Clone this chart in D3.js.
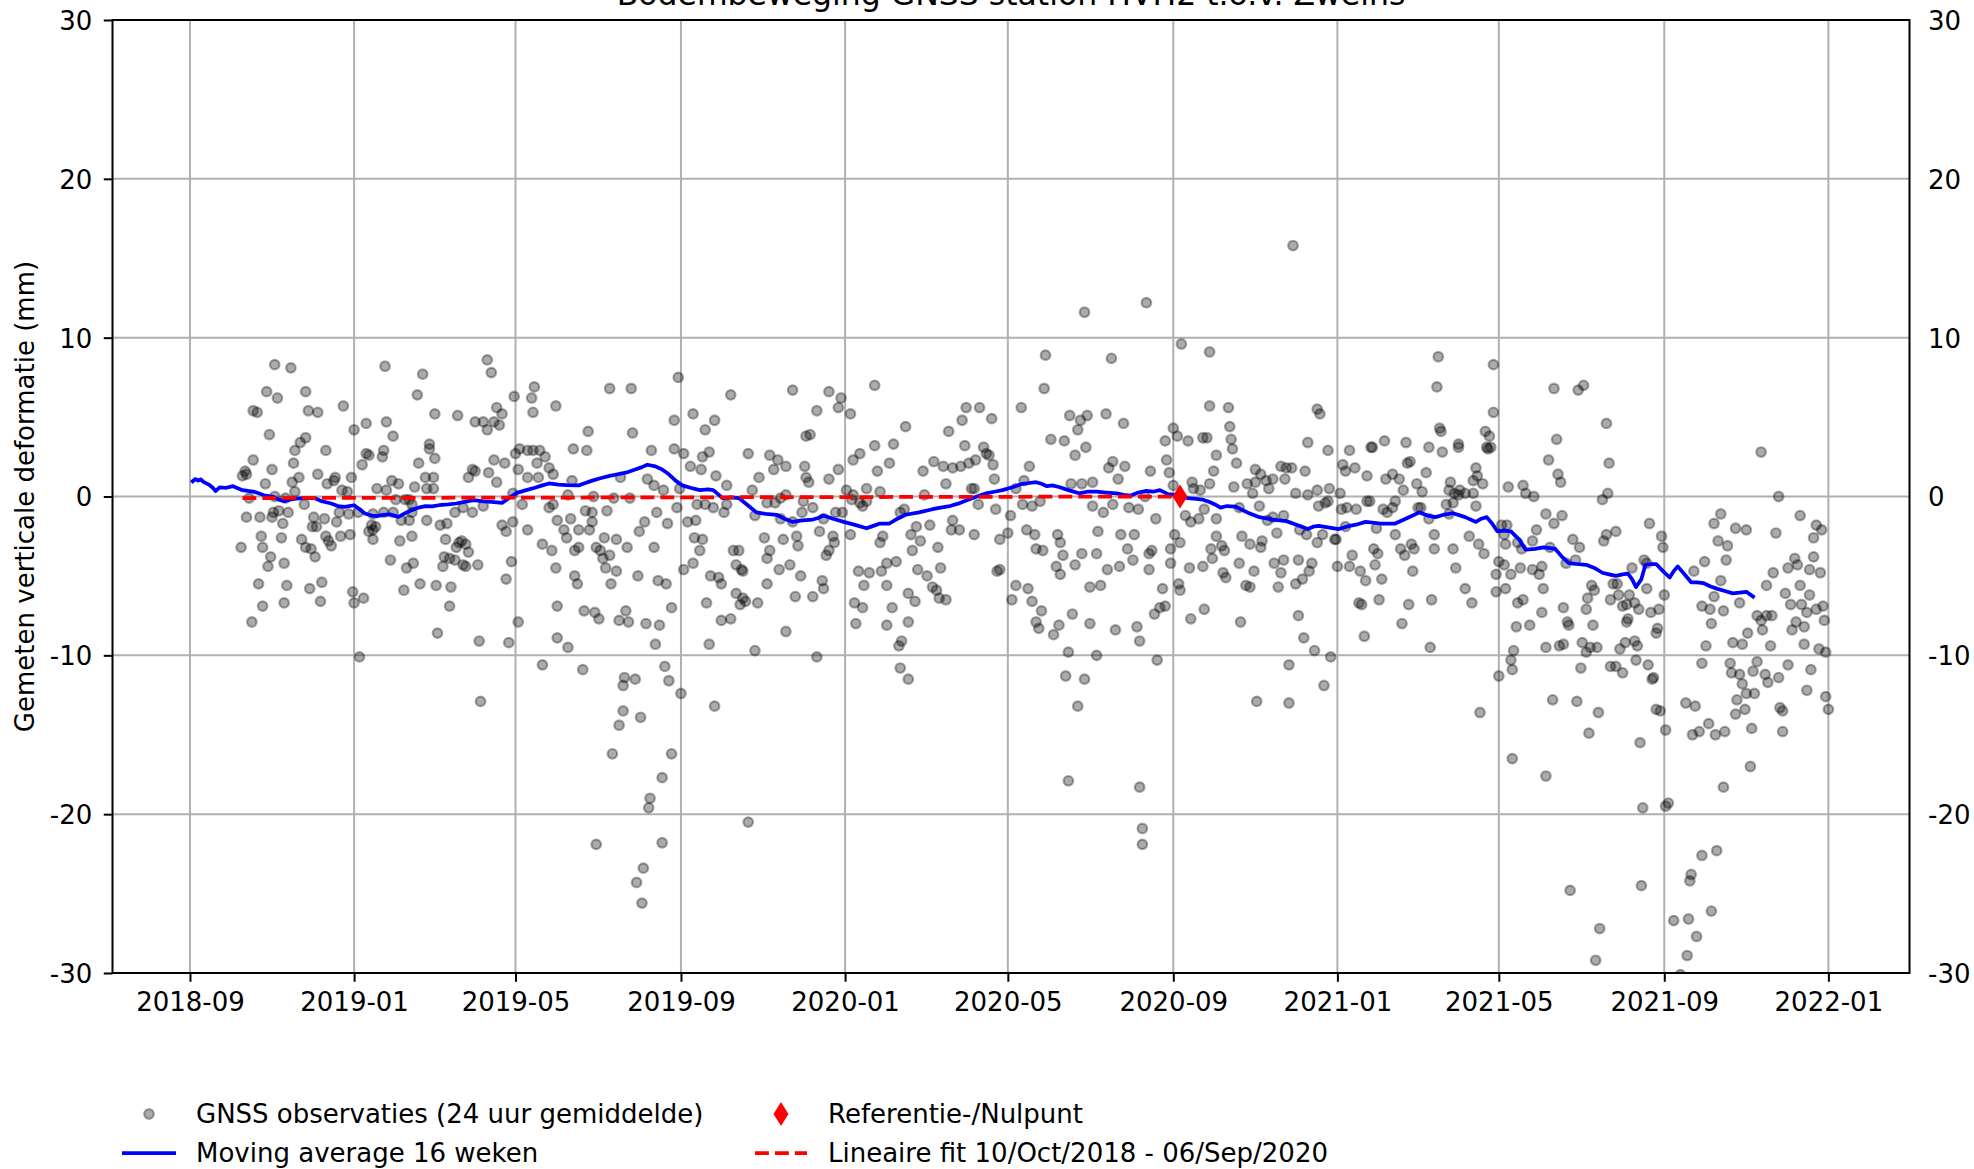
<!DOCTYPE html>
<html><head><meta charset="utf-8">
<script src="https://cdn.jsdelivr.net/npm/d3@7"></script>
<style>
html,body{margin:0;padding:0;background:#fff;}
svg{display:block;font-family:"DejaVu Sans",sans-serif;}
</style></head><body>
<svg id="chart" width="1974" height="1169"></svg>
<script>
// ---- DATA (day offset since startDate, mm) ----
const startDate = "2018-09-01";
const titleText = "Bodembeweging GNSS station HVH2 t.o.v. Zweins";
const yLabelText = "Gemeten verticale deformatie (mm)";
const xTickDates = ["2018-09-01","2019-01-01","2019-05-01","2019-09-01","2020-01-01","2020-05-01","2020-09-01","2021-01-01","2021-05-01","2021-09-01","2022-01-01"];
const yTicks = [-30,-20,-10,0,10,20,30];
const legendLabels = ["GNSS observaties (24 uur gemiddelde)","Moving average 16 weken","Referentie-/Nulpunt","Lineaire fit 10/Oct/2018 - 06/Sep/2020"];

const obsA = [[63,8.3],[75,8.1],[57,6.6],[65,6.2],[86,6.6],[47,5.4],[50,5.3],[88,5.4],[95,5.3],[114,5.7],[59,3.9],[86,3.7],[82,3.4],[78,2.9],[101,2.9],[47,2.3],[61,1.7],[77,2.1],[41,1.6],[42,1.4],[39,1.3],[56,0.8],[76,0.9],[81,1.2],[95,1.4],[107,1.0],[108,1.2],[102,0.8],[120,1.2],[117,0.3],[113,0.4],[44,-0.1],[63,0.0],[71,-0.1],[85,-0.5],[78,0.3],[42,-1.3],[52,-1.3],[62,-1.0],[66,-0.9],[73,-1.0],[61,-1.3],[69,-1.7],[92,-1.3],[100,-1.4],[91,-1.9],[94,-1.9],[109,-1.6],[111,-1.0],[118,-1.1],[38,-3.2],[53,-2.5],[54,-3.2],[68,-2.6],[83,-2.7],[86,-3.2],[90,-3.3],[101,-2.5],[103,-2.8],[105,-3.1],[112,-2.5],[119,-2.4],[60,-3.8],[58,-4.4],[70,-4.2],[93,-3.8],[51,-5.5],[72,-5.6],[89,-5.8],[98,-5.4],[54,-6.9],[70,-6.7],[97,-6.6],[46,-7.9]];

const obsB = [[122,4.2],[131,4.6],[146,4.7],[151,3.8],[145,8.2],[173,7.7],[169,6.4],[182,5.2],[199,5.1],[221,8.6],[224,7.8],[241,6.3],[254,6.2],[256,6.9],[255,5.3],[272,5.7],[212,4.7],[218,4.7],[226,4.7],[230,4.5],[221,4.2],[228,5.6],[232,5.2],[178,3.3],[178,3.0],[182,2.4],[170,2.1],[131,2.7],[133,2.6],[128,2.0],[143,2.5],[144,2.9],[242,2.7],[245,3.0],[251,2.9],[255,2.9],[260,2.9],[264,2.5],[258,2.1],[267,1.8],[210,1.7],[212,1.6],[207,1.2],[222,1.5],[226,2.3],[234,2.1],[228,0.9],[244,1.7],[251,1.2],[259,1.2],[270,1.4],[181,1.2],[175,1.2],[176,0.5],[167,0.6],[181,0.5],[150,1.0],[155,0.8],[139,0.5],[146,0.4],[153,-0.2],[160,-0.2],[163,-0.2],[165,-0.5],[165,-1.0],[151,-1.0],[144,-1.0],[125,-1.0],[136,-1.1],[157,-1.5],[163,-1.5],[176,-1.5],[186,-1.8],[191,-1.7],[197,-1.0],[203,-0.7],[210,-1.0],[218,-0.6],[232,-1.8],[235,-2.2],[240,-1.6],[240,0.2],[247,-0.5],[267,-0.7],[270,-0.5],[273,-1.5],[251,-2.1],[262,-3.0],[269,-3.4],[272,-4.5],[135,-1.8],[136,-2.1],[138,-1.9],[133,-2.2],[136,-2.7],[156,-2.8],[165,-2.5],[149,-4.0],[161,-4.5],[166,-4.2],[190,-2.7],[200,-2.9],[202,-2.8],[205,-3.0],[198,-3.2],[207,-3.5],[189,-3.8],[193,-3.9],[188,-4.4],[197,-4.0],[203,-4.3],[205,-4.4],[214,-4.3],[239,-4.1],[235,-5.2],[159,-5.9],[171,-5.5],[183,-5.6],[194,-5.7],[193,-6.9],[184,-8.6],[215,-9.1],[237,-9.2],[244,-7.9],[262,-10.6],[273,-6.9],[273,-8.9],[121,-6.0],[122,-6.7],[129,-6.4],[126,-10.1],[216,-12.9]];

const obsC = [[312,6.8],[328,6.8],[363,7.5],[402,6.4],[448,6.7],[475,6.6],[484,6.2],[509,7.0],[296,4.1],[329,4.0],[360,4.8],[374,5.2],[390,4.8],[383,4.2],[466,5.4],[482,5.6],[491,5.2],[285,3.0],[295,2.9],[343,2.9],[360,3.0],[367,2.7],[372,1.9],[380,1.7],[381,2.5],[386,2.8],[415,2.7],[431,2.6],[437,2.3],[434,1.7],[443,1.9],[457,1.9],[458,3.8],[461,3.9],[493,2.3],[498,2.7],[509,3.2],[511,1.6],[520,2.1],[284,1.0],[320,1.2],[340,1.1],[345,0.7],[352,0.4],[364,0.5],[391,1.3],[399,0.7],[423,1.2],[418,0.4],[458,1.2],[460,0.9],[475,1.1],[482,1.7],[488,0.4],[493,0.1],[503,0.5],[513,0.3],[300,0.0],[315,-0.1],[327,-0.1],[281,0.1],[362,-0.7],[377,-0.5],[383,-0.5],[389,-0.7],[397,-1.0],[399,-0.5],[420,-1.2],[429,-0.4],[435,-0.4],[439,-0.1],[443,0.1],[439,-1.4],[456,-0.3],[463,-0.7],[455,-1.0],[448,-1.6],[471,-1.4],[480,-1.0],[485,-1.0],[492,-0.2],[498,-0.4],[500,-0.6],[503,-0.3],[294,-0.9],[299,-1.0],[310,-0.9],[283,-1.4],[347,-1.0],[355,-1.7],[370,-1.6],[376,-1.5],[338,-1.6],[334,-2.2],[289,-2.1],[297,-2.1],[299,-1.6],[278,-2.1],[280,-2.6],[308,-2.6],[317,-2.7],[325,-3.2],[345,-3.2],[375,-2.6],[381,-2.7],[379,-3.4],[404,-3.4],[408,-3.4],[427,-2.6],[441,-2.7],[451,-2.5],[452,-3.1],[468,-2.2],[478,-2.5],[479,-2.9],[491,-2.4],[513,-2.9],[515,-2.5],[518,-4.2],[286,-3.4],[289,-3.2],[302,-3.2],[305,-3.4],[312,-3.7],[307,-3.9],[309,-4.5],[317,-4.7],[333,-5.0],[348,-5.3],[354,-5.5],[367,-4.6],[374,-4.2],[387,-5.0],[393,-5.1],[395,-5.5],[406,-4.3],[410,-4.6],[411,-4.7],[431,-3.4],[429,-3.9],[438,-4.6],[446,-4.3],[454,-5.0],[473,-3.7],[475,-3.4],[497,-4.7],[505,-4.8],[514,-4.7],[518,-5.6],[501,-5.6],[286,-5.0],[288,-5.5],[313,-5.5],[293,-7.2],[301,-7.3],[304,-7.7],[319,-7.8],[324,-7.2],[326,-7.9],[339,-8.0],[349,-8.1],[358,-7.0],[384,-6.7],[395,-7.8],[402,-7.7],[406,-6.1],[411,-6.4],[409,-6.8],[413,-6.6],[422,-6.7],[429,-5.5],[450,-6.3],[463,-6.3],[470,-5.3],[471,-5.8],[494,-6.7],[500,-7.0],[495,-8.0],[518,-8.1],[443,-8.5],[281,-9.5],[292,-10.9],[346,-9.3],[386,-9.3],[420,-9.7],[466,-10.1],[323,-11.4],[331,-11.5],[322,-11.9],[353,-10.7],[356,-11.6],[365,-12.4],[390,-13.2],[322,-13.5],[335,-13.9],[319,-14.4],[314,-16.2],[358,-16.2],[351,-17.7],[342,-19.0],[341,-19.6],[415,-20.5],[302,-21.9],[351,-21.8],[337,-23.4],[332,-24.3],[336,-25.6]];

const obsD = [[665,11.6],[711,12.2],[636,8.9],[635,6.8],[685,8.7],[737,9.6],[758,9.1],[758,5.7],[618,5.6],[577,5.6],[587,5.6],[574,4.8],[596,4.9],[532,4.4],[564,4.1],[654,5.1],[662,4.8],[667,5.1],[681,5.2],[694,4.6],[660,4.2],[731,4.3],[734,3.8],[725,3.5],[742,3.5],[753,3.7],[756,3.7],[523,3.3],[545,1.6],[553,2.2],[560,1.9],[567,1.8],[573,1.9],[579,2.1],[584,2.3],[590,3.1],[592,2.7],[594,2.6],[576,3.2],[597,2.0],[624,1.9],[640,3.6],[650,3.5],[658,2.6],[666,3.1],[686,2.2],[683,1.8],[695,1.9],[714,1.6],[726,2.3],[728,1.5],[763,2.6],[761,1.6],[758,0.8],[546,0.1],[562,0.8],[581,0.5],[583,0.5],[598,1.1],[614,0.5],[620,1.0],[655,0.8],[663,0.8],[671,0.9],[690,1.1],[710,0.0],[731,0.7],[745,0.9],[746,0.5],[751,0.4],[528,-1.0],[531,-0.8],[536,-2.4],[540,-1.9],[543,-2.8],[550,-1.8],[556,-3.2],[567,-1.5],[566,-2.1],[572,-2.1],[583,-2.4],[586,-0.5],[599,-0.8],[610,-1.2],[602,-2.7],[608,-2.3],[619,-0.5],[626,-0.6],[632,-0.3],[622,-2.1],[628,-2.4],[629,-3.3],[634,-3.4],[645,-2.4],[647,-2.9],[649,-3.7],[644,-4.4],[647,-4.9],[658,-4.3],[663,-3.6],[671,-0.6],[675,-2.2],[679,-1.0],[686,-0.5],[692,-2.4],[702,-2.4],[698,-0.7],[705,-0.8],[718,-1.4],[674,-3.6],[682,-4.6],[691,-4.4],[697,-3.3],[701,-4.0],[713,-3.6],[715,-3.4],[713,-4.6],[732,-2.4],[736,-2.9],[740,-1.2],[744,-1.6],[750,-1.4],[754,-0.8],[763,-1.4],[763,-2.5],[759,-3.3],[760,-3.9],[753,-4.4],[743,-4.5],[729,-3.3],[729,-4.2],[525,-4.1],[537,-3.4],[541,-4.6],[548,-5.0],[558,-4.5],[522,-7.0],[534,-6.1],[539,-6.6],[552,-5.7],[557,-6.4],[562,-6.5],[555,-5.9],[602,-4.6],[600,-4.7],[614,-5.6],[611,-6.5],[623,-5.8],[626,-6.6],[633,-7.2],[629,-7.9],[631,-8.3],[642,-8.7],[646,-8.1],[656,-7.4],[669,-8.0],[677,-5.6],[669,-5.7],[688,-8.4],[704,-8.2],[706,-9.1],[723,-5.8],[717,-7.4],[721,-7.0],[725,-6.9],[735,-5.5],[736,-5.9],[744,-7.7],[754,-7.1],[529,-9.1],[527,-9.4],[534,-7.9],[528,-10.8],[534,-11.5],[653,-9.8],[651,-11.3],[665,-11.5],[674,-10.0],[660,-13.2],[719,-10.3],[653,-17.9],[706,-18.3],[708,-20.9],[708,-21.9]];

const obsE = [[820,15.8],[928,8.8],[969,8.3],[927,6.9],[969,5.3],[772,5.6],[838,5.5],[840,5.2],[773,4.4],[774,3.6],[775,3.0],[831,3.4],[846,2.9],[862,2.9],[878,3.1],[879,3.1],[888,3.5],[904,3.4],[921,3.1],[931,2.8],[943,3.3],[943,3.1],[929,4.3],[930,4.1],[964,3.1],[965,3.0],[967,3.1],[963,4.1],[966,3.8],[956,1.8],[957,1.3],[954,1.0],[961,0.8],[778,2.1],[776,0.6],[792,1.7],[796,1.4],[792,0.9],[800,1.0],[805,1.1],[811,1.9],[815,1.8],[819,1.8],[814,1.1],[829,1.6],[786,0.8],[790,0.2],[802,0.5],[822,0.2],[831,0.1],[838,0.4],[847,0.5],[855,0.2],[857,2.0],[859,1.6],[866,1.8],[875,1.3],[889,1.1],[894,1.4],[899,1.1],[905,2.1],[907,2.2],[912,0.8],[919,1.5],[902,0.4],[916,0.3],[937,0.9],[936,0.4],[940,0.2],[944,0.4],[948,0.2],[954,0.2],[980,0.6],[991,0.7],[993,0.2],[999,0.0],[1008,-1.1],[780,-0.7],[795,-0.6],[801,-1.5],[805,-1.3],[813,-1.2],[839,-0.6],[844,-0.4],[846,-0.3],[856,-0.8],[860,-0.7],[867,-0.8],[875,-0.3],[877,-0.3],[887,-0.8],[890,-1.0],[894,-0.7],[896,-0.3],[913,-0.7],[915,-0.7],[921,-1.4],[934,-0.5],[939,-0.4],[943,0.1],[956,-0.6],[936,-1.1],[975,-1.8],[979,-1.8],[767,-3.1],[769,-3.4],[782,-2.5],[788,-3.0],[797,-2.8],[796,-3.2],[808,-2.3],[825,-2.1],[830,-2.4],[838,-2.9],[842,-2.4],[851,-2.7],[852,-2.7],[859,-1.9],[882,-2.0],[896,-2.4],[908,-3.0],[900,-3.3],[903,-3.7],[910,-3.3],[925,-2.4],[925,-3.3],[939,-3.3],[951,-2.5],[958,-3.0],[962,-3.6],[977,-2.4],[978,-3.0],[987,-2.9],[990,-3.3],[1001,-2.1],[998,-2.8],[1011,-3.2],[768,-4.8],[770,-5.1],[780,-4.2],[791,-4.7],[806,-4.2],[813,-4.0],[811,-4.8],[824,-4.0],[834,-4.2],[832,-4.7],[853,-4.4],[862,-4.4],[864,-3.7],[870,-4.7],[874,-5.3],[880,-3.3],[883,-3.6],[881,-4.3],[886,-5.2],[909,-4.7],[941,-4.5],[973,-4.1],[977,-4.3],[982,-4.9],[989,-4.5],[998,-4.6],[1003,-4.9],[1005,-4.4],[1006,-5.8],[785,-5.6],[788,-5.7],[809,-5.7],[822,-5.5],[827,-5.2],[869,-6.7],[871,-6.8],[884,-6.5],[906,-6.8],[923,-6.5],[948,-5.8],[953,-6.7],[971,-4.9],[971,-6.0],[978,-5.8],[987,-6.7],[991,-6.5],[996,-8.1],[986,-8.2],[1005,-7.3],[1008,-9.5],[781,-7.9],[824,-7.5],[828,-8.9],[836,-9.7],[848,-10.1],[873,-8.8],[901,-8.0],[922,-9.5],[817,-10.6],[984,-9.7],[982,-10.3],[983,-10.9],[973,-11.3],[843,-11.9],[793,-12.9],[817,-13.0],[959,-13.6],[983,-16.5],[1008,-17.6]];

const obsF = [[1014,6.8],[1032,6.7],[1036,7.0],[1053,4.6],[1016,3.6],[1055,2.1],[1010,2.3],[1017,1.4],[1019,0.9],[1050,-0.2],[1054,0.2],[1168,2.8],[1181,0.0],[1020,-1.2],[1014,-1.7],[1028,-2.7],[1033,-3.2],[1051,-2.8],[1053,-2.4],[1060,-2.2],[1085,-1.7],[1094,-2.5],[1095,-3.2],[1023,-4.2],[1030,-4.0],[1072,-4.5],[1081,-4.0],[1083,-4.2],[1083,-5.8],[1042,-5.6],[1039,-6.4],[1044,-5.9],[1058,-5.5],[1061,-5.5],[1056,-6.5],[1062,-6.2],[1070,-6.2],[1065,-6.9],[1068,-6.8],[1074,-6.7],[1077,-7.1],[1086,-7.3],[1092,-7.1],[1096,-6.2],[1091,-8.3],[1090,-8.6],[1068,-7.9],[1069,-7.7],[1021,-7.0],[1038,-7.1],[1024,-7.9],[1025,-8.1],[1043,-8.1],[1018,-9.4],[1021,-9.3],[1035,-9.2],[1038,-9.8],[1041,-9.5],[1046,-9.5],[1063,-9.6],[1067,-9.2],[1074,-9.1],[1076,-9.4],[1075,-10.3],[1084,-10.6],[1088,-11.4],[1087,-11.5],[1056,-10.7],[1060,-10.7],[1065,-11.1],[1034,-10.8],[1013,-12.8],[1031,-12.9],[1047,-13.6],[1040,-14.9],[1078,-15.5],[1090,-13.4],[1093,-13.5],[1097,-14.7],[1080,-19.6],[1097,-19.5],[1099,-19.3],[1026,-24.8],[1048,-27.2],[1045,-29.2],[1079,-24.5],[1118,-4.7],[1126,-4.1],[1133,-1.7],[1138,-1.1],[1149,-2.0],[1157,-2.1],[1136,-2.8],[1143,-3.1],[1142,-4.0],[1138,-5.3],[1133,-6.3],[1124,-6.9],[1130,-7.1],[1140,-7.2],[1131,-8.0],[1152,-6.7],[1165,-7.5],[1168,-7.8],[1172,-7.5],[1176,-7.5],[1169,-8.4],[1158,-8.6],[1147,-9.2],[1154,-9.3],[1127,-9.4],[1175,-9.4],[1124,-10.5],[1145,-10.5],[1146,-11.1],[1152,-11.2],[1154,-11.8],[1157,-12.4],[1163,-12.4],[1165,-10.4],[1162,-11.0],[1171,-11.2],[1173,-11.7],[1181,-11.4],[1188,-10.6],[1202,-12.2],[1205,-10.9],[1150,-12.8],[1149,-13.7],[1156,-13.4],[1112,-13.0],[1119,-13.2],[1129,-14.3],[1117,-15.0],[1122,-14.8],[1134,-15.0],[1141,-14.8],[1161,-14.6],[1182,-13.3],[1184,-13.5],[1184,-14.8],[1160,-17.0],[1140,-18.3],[1179,-2.3],[1177,-4.8],[1172,-5.6],[1186,-6.1],[1188,-4.5],[1193,-3.9],[1195,-4.3],[1197,-1.2],[1209,-1.8],[1213,-2.1],[1207,-2.6],[1207,-3.8],[1204,-4.6],[1212,-4.8],[1197,-5.6],[1204,-6.2],[1190,-6.8],[1198,-6.8],[1202,-7.3],[1209,-7.1],[1214,-6.9],[1215,-7.8],[1194,-7.9],[1191,-8.4],[1200,-8.2],[1200,-9.3],[1211,-9.6],[1216,-9.8],[1216,-12.6],[1218,-13.4],[1124,-22.6],[1135,-22.3],[1116,-23.8],[1115,-24.2],[1131,-26.1],[1103,-26.7],[1114,-26.6],[1120,-27.7],[1113,-28.9],[1108,-30.1]];

const maA = [[2,0.96],[4,1.1],[6,1.0],[8,1.08],[10,0.92],[14,0.75],[17,0.55],[19,0.34],[22,0.57],[27,0.55],[32,0.65],[36,0.5],[39,0.40],[43,0.35],[47,0.31],[51,0.2],[55,0.08],[62,-0.02],[66,-0.2],[70,-0.29],[74,-0.2],[79,-0.13],[85,-0.1],[92,-0.08],[98,-0.3],[105,-0.44],[110,-0.6],[115,-0.65],[122,-0.55],[126,-0.8],[130,-1.07],[135,-1.2],[139,-1.24],[144,-1.15],[149,-1.13],[155,-1.28],[160,-1.05],[165,-0.86],[170,-0.7],[175,-0.61],[180,-0.62],[185,-0.55],[192,-0.5],[198,-0.44],[205,-0.32],[211,-0.23],[218,-0.3],[224,-0.34],[232,-0.40],[238,-0.05],[243,0.23],[250,0.4],[257,0.57],[262,0.7],[267,0.82],[274,0.75],[280,0.71]];
const maB = [[289,0.7],[294,0.85],[299,1.0],[305,1.15],[312,1.3],[318,1.4],[324,1.5],[331,1.7],[336,1.85],[340,2.0],[346,1.9],[351,1.7],[356,1.4],[361,1.0],[366,0.7],[372,0.55],[379,0.4],[385,0.45],[389,0.4],[396,-0.1],[402,-0.05],[408,-0.1],[414,-0.5],[421,-1.0],[428,-1.1],[436,-1.15],[442,-1.4],[448,-1.6],[455,-1.5],[463,-1.45],[467,-1.35],[471,-1.2],[478,-1.4],[486,-1.6],[495,-1.8],[503,-2.0],[508,-1.85],[513,-1.7],[520,-1.7]];
const maC = [[526,-1.4],[532,-1.15],[542,-1.0],[552,-0.8],[558,-0.7],[565,-0.6],[571,-0.45],[577,-0.25],[585,0.0],[592,0.2],[598,0.3],[604,0.4],[612,0.6],[619,0.8],[624,0.85],[629,0.9],[633,0.8],[637,0.65],[641,0.7],[646,0.6],[653,0.4],[661,0.2],[667,0.3],[674,0.3],[681,0.25],[689,0.2],[694,0.1],[699,0.05],[705,0.25],[711,0.35],[716,0.3],[721,0.4],[727,0.15],[732,0.1],[737,0.0],[742,-0.1],[748,-0.15],[753,-0.2],[758,-0.35],[762,-0.5],[766,-0.7]];
const maD = [[771,-0.6],[777,-0.63],[786,-1.0],[795,-1.3],[805,-1.45],[815,-1.55],[823,-1.8],[831,-2.05],[835,-1.9],[839,-1.85],[846,-1.95],[854,-2.05],[862,-1.85],[868,-1.75],[874,-1.6],[885,-1.7],[896,-1.7],[905,-1.35],[914,-1.0],[920,-1.2],[926,-1.3],[932,-1.15],[939,-1.05],[948,-1.3],[956,-1.6],[960,-1.4],[964,-1.3],[968,-1.7],[972,-2.2],[977,-2.15],[982,-2.2],[988,-2.7],[993,-3.35],[1000,-3.3],[1006,-3.2],[1011,-3.25]];
const maE = [[1015,-3.3],[1020,-3.8],[1025,-4.2],[1031,-4.25],[1038,-4.3],[1044,-4.5],[1050,-4.8],[1055,-4.9],[1060,-5.0],[1065,-4.9],[1069,-4.85],[1072,-5.2],[1075,-5.7],[1079,-5.2],[1082,-4.3],[1086,-4.25],[1090,-4.25],[1095,-4.7],[1100,-5.1],[1103,-4.7],[1106,-4.4],[1111,-4.9],[1116,-5.4],[1120,-5.4],[1125,-5.45],[1130,-5.65],[1135,-5.8],[1141,-5.95],[1147,-6.1],[1152,-6.05],[1157,-6.0],[1162,-6.3]];

const fitDates = ["2018-10-10","2020-09-06"];
const fitMm = [-0.1, 0.0];
const refDate = "2020-09-06";
const refMm = 0;

// ---- LAYOUT ----
const plot = {left:112.5, right:1909.5, top:20, bottom:973};
const FS = 26;
const svg = d3.select("#chart");
const parse = d3.utcParse("%Y-%m-%d");
const base = parse(startDate);
const dayToDate = d => d3.utcDay.offset(base, d);
const fmtTick = d => String(d);

const x = d3.scaleUtc()
  .domain([new Date(Date.UTC(2018,6,5,9,36)), new Date(Date.UTC(2022,2,2,7,12))])
  .range([plot.left, plot.right]);
const y = d3.scaleLinear().domain([-30,30]).range([plot.bottom, plot.top]);

svg.append("defs").append("clipPath").attr("id","clip")
  .append("rect").attr("x",plot.left).attr("y",plot.top)
  .attr("width",plot.right-plot.left).attr("height",plot.bottom-plot.top);

// grid
const grid = svg.append("g").attr("stroke","#b0b0b0").attr("stroke-width",2);
grid.selectAll("line.v").data(xTickDates).join("line")
  .attr("x1",d=>x(parse(d))).attr("x2",d=>x(parse(d)))
  .attr("y1",plot.top).attr("y2",plot.bottom);
grid.selectAll("line.h").data(yTicks).join("line")
  .attr("y1",d=>y(d)).attr("y2",d=>y(d))
  .attr("x1",plot.left).attr("x2",plot.right);

const obs = [].concat(obsA, obsB, obsC, obsD, obsE, obsF);
const ma = [].concat(maA, maB, maC, maD, maE);

const dotFill = "rgba(0,0,0,0.33)";
const dotR = 4.8, dotSW = 2.2;
const data = svg.append("g").attr("clip-path","url(#clip)");
data.selectAll("circle").data(obs).join("circle")
  .attr("cx",d=>x(dayToDate(d[0]))).attr("cy",d=>y(d[1]))
  .attr("r",dotR)
  .attr("fill",dotFill)
  .attr("stroke",dotFill)
  .attr("stroke-width",dotSW);

const line = d3.line().x(d=>x(dayToDate(d[0]))).y(d=>y(d[1]));
data.append("path").datum(ma).attr("d",line)
  .attr("fill","none").attr("stroke","#0000ff").attr("stroke-width",3.75)
  .attr("stroke-linejoin","round").attr("stroke-linecap","square");

const fit = fitDates.map((d,i)=>[parse(d), fitMm[i]]);
data.append("path").datum(fit)
  .attr("d", d3.line().x(d=>x(d[0])).y(d=>y(d[1])))
  .attr("fill","none").attr("stroke","#ff0000").attr("stroke-width",3.75)
  .attr("stroke-dasharray","13.9 6");

const thinDiamond = (w,h) => `M0,${-h}L${w},0L0,${h}L${-w},0Z`;
data.append("path").attr("d",thinDiamond(7.5,12))
  .attr("transform",`translate(${x(parse(refDate))},${y(refMm)})`)
  .attr("fill","#ff0000");

// frame
svg.append("rect").attr("x",plot.left).attr("y",plot.top)
  .attr("width",plot.right-plot.left).attr("height",plot.bottom-plot.top)
  .attr("fill","none").attr("stroke","#000").attr("stroke-width",2);

// axes
function styleAxis(g){
  g.select(".domain").remove();
  g.selectAll(".tick line").attr("stroke","#000").attr("stroke-width",2);
  g.selectAll(".tick text").attr("font-size",FS).attr("fill","#000")
    .attr("font-family","DejaVu Sans, sans-serif");
}
svg.append("g").attr("transform",`translate(0,${plot.bottom})`)
  .call(d3.axisBottom(x).tickValues(xTickDates.map(parse))
        .tickFormat(d3.utcFormat("%Y-%m")).tickSize(8.75).tickPadding(10.5))
  .call(styleAxis);
svg.append("g").attr("transform",`translate(${plot.left},0)`)
  .call(d3.axisLeft(y).tickValues(yTicks).tickFormat(fmtTick).tickSize(8.75).tickPadding(11.5))
  .call(styleAxis)
  .call(g=>g.selectAll(".tick text").attr("dy","0.36em"));
svg.append("g").attr("transform",`translate(${plot.right},0)`)
  .call(d3.axisRight(y).tickValues(yTicks).tickFormat(fmtTick).tickSize(0).tickPadding(18.5))
  .call(styleAxis)
  .call(g=>g.selectAll(".tick text").attr("dy","0.36em"));

// title
svg.append("text").attr("x",(plot.left+plot.right)/2).attr("y",5)
  .attr("text-anchor","middle").attr("font-size",31.5).attr("fill","#000")
  .text(titleText);

// y label
svg.append("text").attr("transform",`translate(34,${(plot.top+plot.bottom)/2}) rotate(-90)`)
  .attr("text-anchor","middle").attr("font-size",FS).attr("fill","#000")
  .text(yLabelText);

// legend
const lg = svg.append("g").attr("font-size",FS).attr("fill","#000");
const row1 = 1114, row2 = 1153;
lg.append("circle").attr("cx",149).attr("cy",row1).attr("r",dotR)
  .attr("fill",dotFill).attr("stroke",dotFill).attr("stroke-width",dotSW);
lg.append("text").attr("x",196).attr("y",row1).attr("dy","0.36em").text(legendLabels[0]);
lg.append("line").attr("x1",122).attr("x2",176).attr("y1",row2).attr("y2",row2)
  .attr("stroke","#0000ff").attr("stroke-width",3.75);
lg.append("text").attr("x",196).attr("y",row2).attr("dy","0.36em").text(legendLabels[1]);
lg.append("path").attr("d",thinDiamond(7.5,12)).attr("transform",`translate(781,${row1})`).attr("fill","#ff0000");
lg.append("text").attr("x",828).attr("y",row1).attr("dy","0.36em").text(legendLabels[2]);
lg.append("line").attr("x1",755).attr("x2",807).attr("y1",row2).attr("y2",row2)
  .attr("stroke","#ff0000").attr("stroke-width",3.75).attr("stroke-dasharray","13.9 6");
lg.append("text").attr("x",828).attr("y",row2).attr("dy","0.36em").text(legendLabels[3]);
</script>
</body></html>
